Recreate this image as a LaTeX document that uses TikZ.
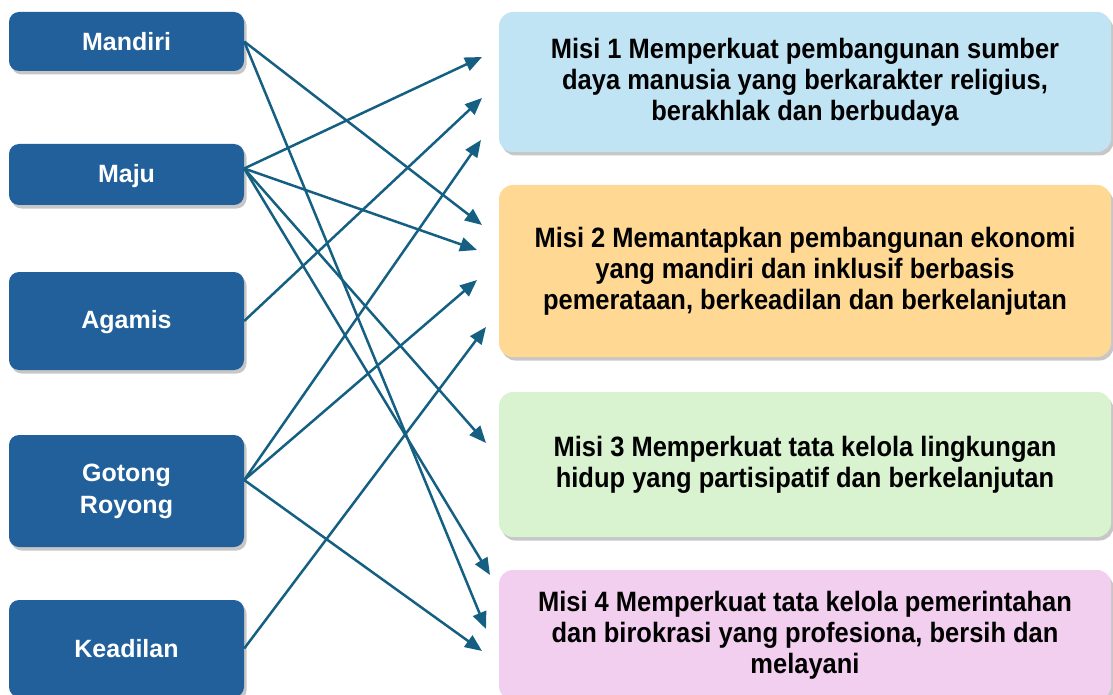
\documentclass[tikz,border=0pt]{standalone}
\usepackage{fontspec}
\setmainfont{Liberation Sans}
\newfontfamily\narrowbold[FakeStretch=0.91]{Liberation Sans}
\usetikzlibrary{arrows.meta,shadows}
\definecolor{leftblue}{HTML}{21609B}
\definecolor{arrowc}{HTML}{156082}
\definecolor{mone}{HTML}{C1E4F5}
\definecolor{mtwo}{HTML}{FFD993}
\definecolor{mthree}{HTML}{D9F2D0}
\definecolor{mfour}{HTML}{F2CEEF}
\tikzset{
  shad/.style={drop shadow={shadow xshift=2.5pt, shadow yshift=-3.5pt, fill=black, opacity=0.22}},
  leftbox/.style={shad, fill=leftblue, rounded corners=10pt, minimum width=235pt, inner sep=0pt,
    text=white, align=center, font=\fontsize{25}{32}\selectfont\bfseries},
  misibox/.style={shad, fill=#1, rounded corners=14pt, minimum width=612pt, inner sep=0pt,
    text=black, align=center, font=\narrowbold\fontsize{28}{31}\selectfont\bfseries},
  arr/.style={draw=arrowc, line width=2.5pt, -{Triangle[length=17pt,width=14pt]}}
}
\begin{document}
\begin{tikzpicture}[x=1pt,y=-1pt]
\useasboundingbox (0,0) rectangle (1113,695);
% left boxes
\node[leftbox, minimum height=59pt] (mandiri) at (126.5,41.5) {Mandiri};
\node[leftbox, minimum height=61pt, text depth=2pt] (maju) at (126.5,174.5) {Maju};
\node[leftbox, minimum height=98pt, text depth=3pt] (agamis) at (126.5,321) {Agamis};
\node[leftbox, minimum height=112pt] (gotong) at (126.5,491) {Gotong\\Royong\rule[-5pt]{0pt}{5pt}};
\node[leftbox, minimum height=97pt] (keadilan) at (126.5,648.5) {Keadilan};
% right boxes
\node[misibox=mone, minimum height=140pt] (misi1) at (805,82) {Misi 1 Memperkuat pembangunan sumber\\daya manusia yang berkarakter religius,\\berakhlak dan berbudaya};
\node[misibox=mtwo, minimum height=172pt] (misi2) at (805,271) {Misi 2 Memantapkan pembangunan ekonomi\\yang mandiri dan inklusif berbasis\\pemerataan, berkeadilan dan berkelanjutan};
\node[misibox=mthree, minimum height=145pt] (misi3) at (805,464.5) {Misi 3 Memperkuat tata kelola lingkungan\\hidup yang partisipatif dan berkelanjutan};
\node[misibox=mfour, minimum height=130pt] (misi4) at (805,635) {Misi 4 Memperkuat tata kelola pemerintahan\\dan birokrasi yang profesiona, bersih dan\\melayani};
% arrow tips
\coordinate (ta) at (482,225);
\coordinate (tb) at (486,629);
\coordinate (tc) at (482,57);
\coordinate (td) at (477,250);
\coordinate (te) at (486,443);
\coordinate (tf) at (490,575);
\coordinate (tg) at (482,98);
\coordinate (th) at (481,140);
\coordinate (ti) at (477,280);
\coordinate (tj) at (482,651);
\coordinate (tk) at (486,327);
% connectors
\draw[arr] (mandiri.east) -- (ta);
\draw[arr] (mandiri.east) -- (tb);
\draw[arr] ([yshift=6pt]maju.east) -- (tc);
\draw[arr] ([yshift=6pt]maju.east) -- (td);
\draw[arr] ([yshift=6pt]maju.east) -- (te);
\draw[arr] ([yshift=6pt]maju.east) -- (tf);
\draw[arr] (agamis.east) -- (tg);
\draw[arr] ([yshift=11pt]gotong.east) -- (th);
\draw[arr] ([yshift=11pt]gotong.east) -- (ti);
\draw[arr] ([yshift=11pt]gotong.east) -- (tj);
\draw[arr] (keadilan.east) -- (tk);
\end{tikzpicture}
\end{document}
